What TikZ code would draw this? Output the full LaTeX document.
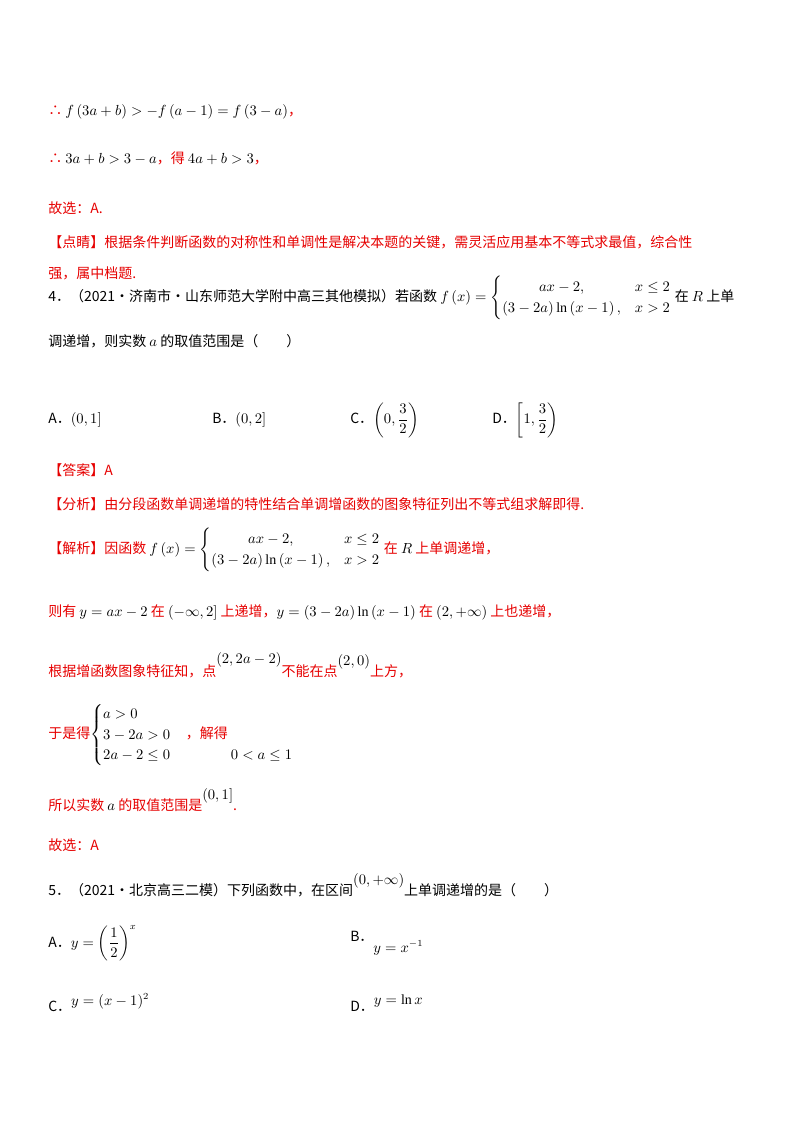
\documentclass[tikz,border=0pt]{standalone}
\usepackage{amsmath}
\usepackage{fontspec}
\setmainfont{Liberation Serif}
\newfontfamily\cjk{Noto Sans CJK SC}
\definecolor{myred}{RGB}{230,0,0}
\newcommand{\bk}[1]{{\color{black}#1}}
\begin{document}
\begin{tikzpicture}[x=0.75pt,y=-0.75pt,
  t/.style={anchor=west,inner sep=0,font=\cjk\fontsize{10.5}{13}\selectfont},
  r/.style={t,text=myred}]
\useasboundingbox (0,0) rectangle (800,1132);
\node[r] (l1) at (48,112) {∴ \bk{$f\left(3a+b\right)>-f\left(a-1\right)=f\left(3-a\right)$}，};
\node[r] (l2) at (48,158) {∴ \bk{$3a+b>3-a$}，得 \bk{$4a+b>3$}，};
\node[r] (l3) at (48,208) {故选：A.};
\node[r] (l4) at (48,242) {【点睛】根据条件判断函数的对称性和单调性是解决本题的关键，需灵活应用基本不等式求最值，综合性};
\node[r] (l5) at (48,273) {强，属中档题.};
\node[t] (q4) at (48,298) {4．（2021·济南市·山东师范大学附中高三其他模拟）若函数 $f\left(x\right)=\begin{cases}\hfill ax-2,\hfill & x\le 2\\ \left(3-2a\right)\ln\left(x-1\right), & x>2\end{cases}$ 在 $R$ 上单};
\node[t] (q4b) at (48,341) {调递增，则实数 $a$ 的取值范围是（　　）};
\node[t] (oA) at (48,420) {A．$\left(0,1\right]$};
\node[t] (oB) at (212,420) {B．$\left(0,2\right]$};
\node[t] (oC) at (350,420) {C．$\left(0,\dfrac{3}{2}\right)$};
\node[t] (oD) at (492,420) {D．$\left[1,\dfrac{3}{2}\right)$};
\node[r] (ans) at (48,470) {【答案】A};
\node[r] (fx) at (48,504) {【分析】由分段函数单调递增的特性结合单调增函数的图象特征列出不等式组求解即得.};
\node[r] (jx) at (48,550) {【解析】因函数 \bk{$f\left(x\right)=\begin{cases}\hfill ax-2,\hfill & x\le 2\\ \left(3-2a\right)\ln\left(x-1\right), & x>2\end{cases}$} 在 \bk{$R$} 上单调递增，};
\node[r] (s1) at (48,612) {则有 \bk{$y=ax-2$} 在 \bk{$\left(-\infty,2\right]$} 上递增，\bk{$y=\left(3-2a\right)\ln\left(x-1\right)$} 在 \bk{$\left(2,+\infty\right)$} 上也递增，};
\node[r] (s2) at (48,665) {根据增函数图象特征知，点\raisebox{10pt}{\bk{$\left(2,2a-2\right)$}}不能在点\raisebox{8pt}{\bk{$\left(2,0\right)$}}上方，};
\node[r] (s3) at (48,735) {于是得\bk{$\begin{cases}a>0\\3-2a>0\\2a-2\le 0\end{cases}$}，解得 \raisebox{-16pt}{\bk{$0<a\le 1$}}};
\node[r] (s4) at (48,800) {所以实数 \bk{$a$} 的取值范围是\raisebox{8pt}{\bk{$\left(0,1\right]$}}.};
\node[r] (s5) at (48,845) {故选：A};
\node[t] (q5) at (48,885) {5．（2021·北京高三二模）下列函数中，在区间\raisebox{8pt}{$\left(0,+\infty\right)$}上单调递增的是（　　）};
\node[t] (pA) at (48,943) {A．$y=\left(\dfrac{1}{2}\right)^{x}$};
\node[t] (pB) at (350,943) {B．\raisebox{-8pt}{$y=x^{-1}$}};
\node[t] (pC) at (48,1003) {C．\raisebox{5pt}{$y=(x-1)^{2}$}};
\node[t] (pD) at (350,1003) {D．\raisebox{5pt}{$y=\ln x$}};
\end{tikzpicture}
\end{document}
